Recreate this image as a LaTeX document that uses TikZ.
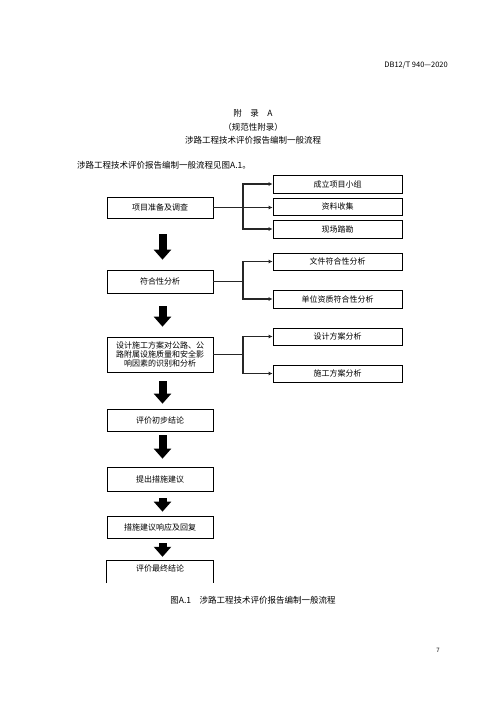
\documentclass[tikz,border=0pt]{standalone}
\usepackage{fontspec}
\setmainfont{Noto Sans CJK SC}
\usetikzlibrary{arrows.meta,calc}
\begin{document}
\begin{tikzpicture}[x=1pt,y=-1pt,
  box/.style={draw, line width=0.7pt, minimum width=106pt, inner sep=0pt, font=\fontsize{8}{9}\selectfont, align=center},
  rbox/.style={draw, line width=0.7pt, minimum width=129pt, inner sep=0pt, font=\fontsize{8}{9}\selectfont, align=center},
  conn/.style={line width=1.1pt, draw=black!85},
  arr/.style={conn, -{Latex[length=4pt,width=4pt]}},
  bigarrow/.style={line width=8pt, -{Triangle[length=10pt,width=17pt]}},
  txt/.style={inner sep=0pt, font=\fontsize{8.5}{10}\selectfont}
]
\useasboundingbox (0,0) rectangle (496,702);

% header and titles
\node[txt, anchor=east, font=\fontsize{7.5}{9}\selectfont] (hdr) at (448,65) {DB12/T 940—2020};
\node[txt] (t1) at (253,113) {附　录　A};
\node[txt] (t2) at (253,127) {（规范性附录）};
\node[txt] (t3) at (253,140) {涉路工程技术评价报告编制一般流程};
\node[txt, anchor=west] (intro) at (77,165) {涉路工程技术评价报告编制一般流程见图A.1。};

% left column
\node[box, minimum height=21pt] (b1) at (160,207.5) {项目准备及调查};
\node[box, minimum height=23pt] (b2) at (160,281.5) {符合性分析};
\node[box, minimum height=35pt] (b3) at (160,354.5) {设计施工方案对公路、公\\路附属设施质量和安全影\\响因素的识别和分析};
\node[box, minimum height=22pt] (b4) at (160,420) {评价初步结论};
\node[box, minimum height=24pt] (b5) at (160,479) {提出措施建议};
\node[box, minimum height=22pt] (b6) at (160,527) {措施建议响应及回复};
\node[txt, font=\fontsize{8}{9}\selectfont, minimum width=106pt, minimum height=14pt] (b7) at (160,568) {评价最终结论};
\draw[line width=0.7pt] (b7.south west) ++(0,8) |- (b7.north east) -- ++(0,22);

% right column
\node[rbox, minimum height=18pt] (r1) at (337.5,184) {成立项目小组};
\node[rbox, minimum height=17pt] (r2) at (337.5,206.5) {资料收集};
\node[rbox, minimum height=18pt] (r3) at (337.5,229) {现场踏勘};
\node[rbox, minimum height=17pt] (r4) at (337.5,261.5) {文件符合性分析};
\node[rbox, minimum height=18pt] (r5) at (337.5,299) {单位资质符合性分析};
\node[rbox, minimum height=17pt] (r6) at (337.5,336.5) {设计方案分析};
\node[rbox, minimum height=17pt] (r7) at (337.5,373.5) {施工方案分析};

% branches
\coordinate (j1) at (243,207.5);
\draw[conn] (b1.east) -- (j1);
\draw[arr] (j1) |- (r1.west);
\draw[arr] (j1) -- (r2.west |- j1);
\draw[arr] (j1) |- (r3.west);

\coordinate (j2) at (243,281.5);
\draw[conn] (b2.east) -- (j2);
\draw[arr] (j2) |- (r4.west);
\draw[arr] (j2) |- (r5.west);

\coordinate (j3) at (243,354.5);
\draw[conn] (b3.east) -- (j3);
\draw[arr] (j3) |- (r6.west);
\draw[arr] (j3) |- (r7.west);

% block arrows
\draw[bigarrow, shorten <=16pt, shorten >=10pt] ([xshift=2.5pt]b1.south) -- ([xshift=2.5pt]b2.north);
\draw[bigarrow, shorten <=13pt, shorten >=10pt] ([xshift=2.5pt]b2.south) -- ([xshift=2.5pt]b3.north);
\draw[bigarrow, shorten <=9pt, shorten >=5pt] ([xshift=2.5pt]b3.south) -- ([xshift=2.5pt]b4.north);
\draw[bigarrow, shorten <=4pt, shorten >=8pt] ([xshift=2.5pt]b4.south) -- ([xshift=2.5pt]b5.north);
\draw[bigarrow, shorten <=7pt, shorten >=4pt] ([xshift=2.5pt]b5.south) -- ([xshift=2.5pt]b6.north);
\draw[bigarrow, shorten <=5pt, shorten >=4pt] ([xshift=2.5pt]b6.south) -- ([xshift=2.5pt]b7.north);

% caption and page number
\node[txt] (cap) at (253,600) {图A.1　涉路工程技术评价报告编制一般流程};
\node[txt, font=\fontsize{6}{7}\selectfont] (pg) at (438,650) {7};
\end{tikzpicture}
\end{document}
